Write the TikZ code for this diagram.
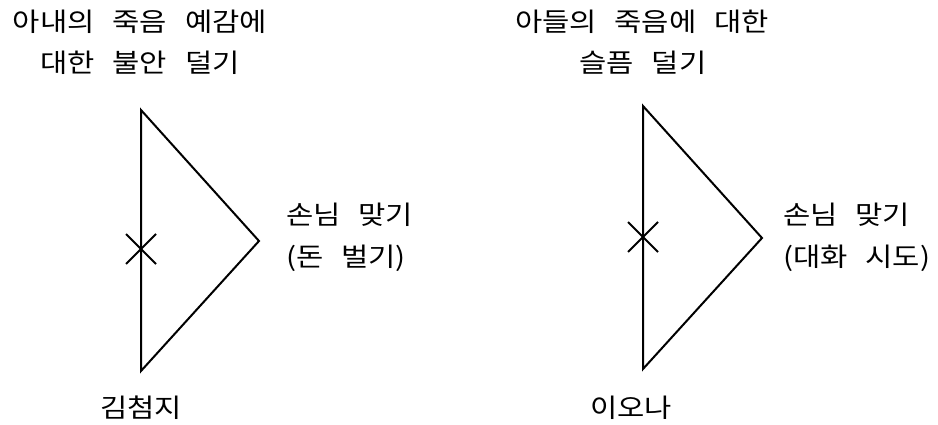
\documentclass[tikz,border=0pt]{standalone}
\usepackage{fontspec}
\setmainfont[FakeStretch=1.14,WordSpace=2.7]{Noto Sans CJK KR}
\usetikzlibrary{positioning,calc}

\begin{document}
\begin{tikzpicture}[
    x=1pt, y=-1pt,
    font=\fontsize{26}{31}\selectfont,
    side/.style={line width=2pt, line join=miter},
    cross/.style={line width=2pt},
    lbl/.style={inner sep=0pt, anchor=center},
    rlbl/.style={inner sep=0pt, anchor=west},
  ]
    \useasboundingbox (0,0) rectangle (938,425);

    % left triangle
    \coordinate (a1) at (141,110);
    \coordinate (b1) at (141,371);
    \coordinate (c1) at (259,241);
    \draw[side] (a1) -- (b1) -- (c1) -- cycle;
    \coordinate (x1) at (141,249);
    \draw[cross] ($(x1)+(-15,-15)$) -- ($(x1)+(15,15)$);
    \draw[cross] ($(x1)+(-15,15)$) -- ($(x1)+(15,-15)$);

    % right triangle
    \coordinate (a2) at (643,106);
    \coordinate (b2) at (643,369);
    \coordinate (c2) at (762,238);
    \draw[side] (a2) -- (b2) -- (c2) -- cycle;
    \coordinate (x2) at (643,237);
    \draw[cross] ($(x2)+(-15,-15)$) -- ($(x2)+(15,15)$);
    \draw[cross] ($(x2)+(-15,15)$) -- ($(x2)+(15,-15)$);

    \node[lbl] (t1a) at (140,22) {아내의 죽음 예감에};
    \node[lbl] (t1b) at (140,63) {대한 불안 덜기};
    \node[rlbl] (r1a) at (286,215) {손님 맞기};
    \node[rlbl] (r1b) at (286,258) {(돈 벌기)};
    \node[lbl] (n1) at (141,408) {김첨지};

    \node[lbl] (t2a) at (642,22) {아들의 죽음에 대한};
    \node[lbl] (t2b) at (643,63) {슬픔 덜기};
    \node[rlbl] (r2a) at (783,215) {손님 맞기};
    \node[rlbl] (r2b) at (783,258) {(대화 시도)};
    \node[lbl] (n2) at (631,408) {이오나};
  \end{tikzpicture}
\end{document}
